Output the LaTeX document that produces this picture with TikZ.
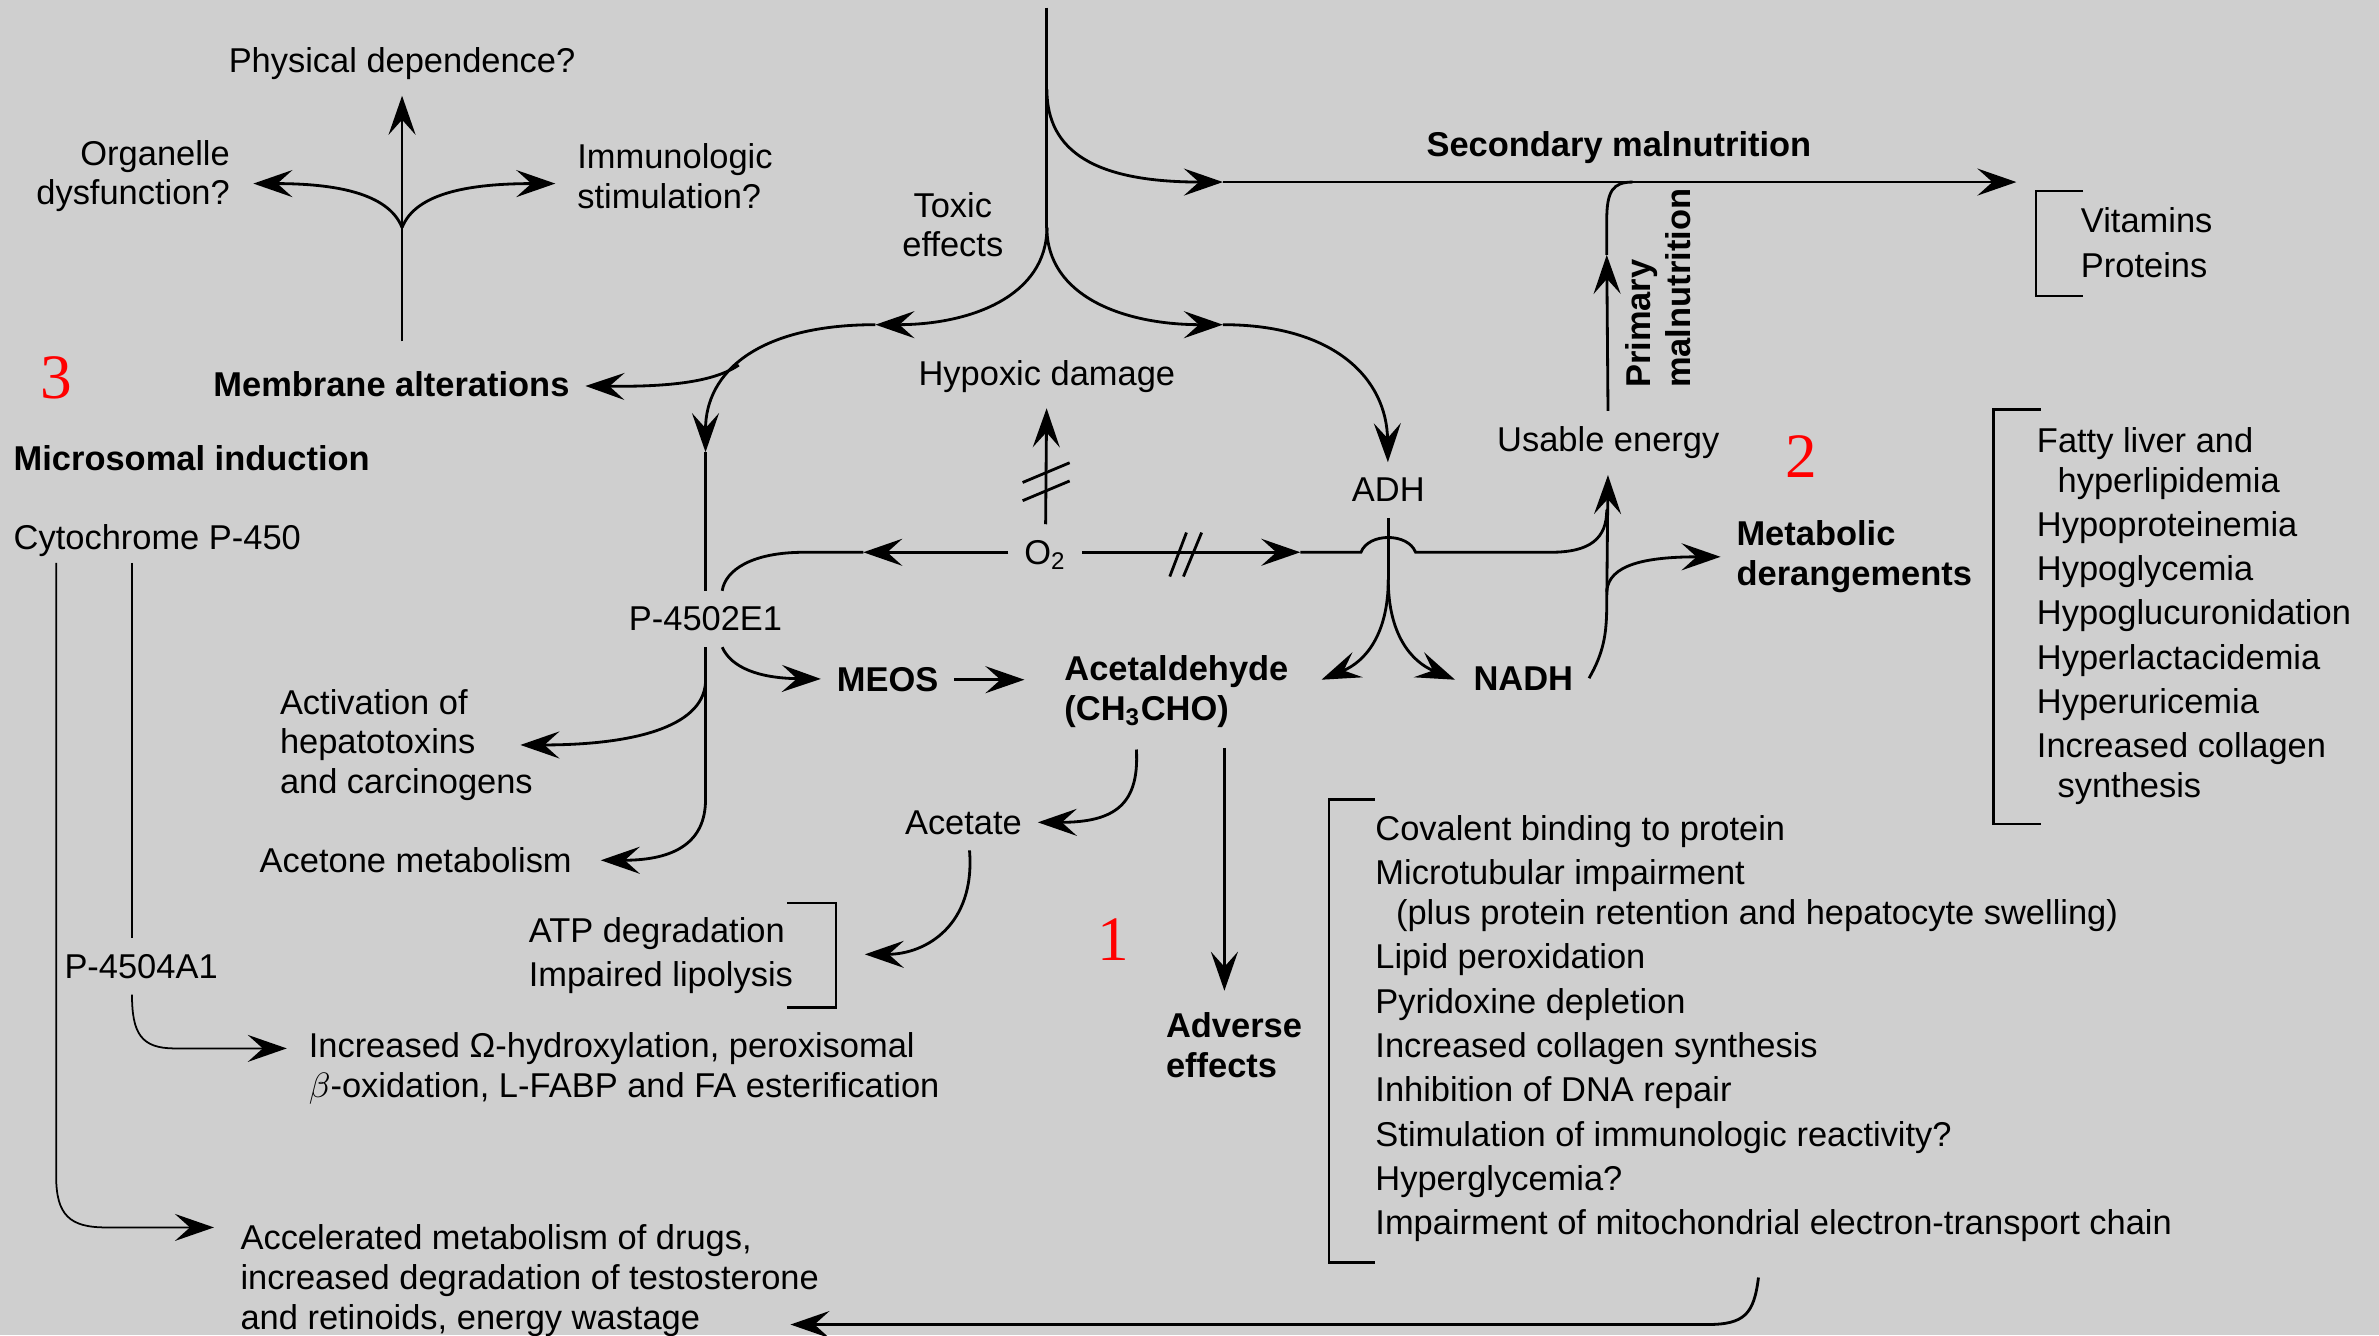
\documentclass[tikz,border=0pt]{standalone}
\usepackage{fontspec}
\setmainfont{Liberation Sans}
\newfontfamily\markfont{Liberation Serif}
\usepackage{tikz}
\usetikzlibrary{arrows.meta,positioning,calc}
\definecolor{paper}{RGB}{207,207,207}
\definecolor{marker}{RGB}{255,0,0}

\begin{document}
\begin{tikzpicture}[
  x=0.15172mm, y=-0.15172mm,
  lbl/.style={inner sep=0pt, outer sep=1.6mm, align=left, font=\fontsize{9.8}{11.3}\selectfont},
  key/.style={lbl, font=\fontsize{9.8}{11.3}\selectfont\bfseries},
  num/.style={inner sep=0pt, text=marker, font=\fontsize{18}{18}\selectfont\markfont},
  ln/.style={line width=0.8pt},
  fine/.style={line width=0.5pt},
  arr/.style={ln, -{Stealth[length=3.9mm, width=2.7mm, inset=1.5mm]}},
  brk/.style={line width=0.7pt}
]
\fill[paper] (0,0) rectangle (1568,880);
\useasboundingbox (0,0) rectangle (1568,880);

% labels
\node[lbl] (phys) at (265,42) {Physical dependence?};
\node[lbl, anchor=east, align=right] (organ) at (162,116) {Organelle\\dysfunction?};
\node[lbl, anchor=west] (immun) at (370,116) {Immunologic\\stimulation?};
\node[key] (membr) at (258,253) {Membrane alterations};
\node[num] (n3) at (37,249) {3};
\node[key, anchor=west] (micro) at (-1.5,302) {Microsomal induction};
\node[lbl, anchor=west] (cyto) at (-1.5,356) {Cytochrome P-450};
\node[lbl, align=center] (toxic) at (628,148) {Toxic\\effects};
\node[lbl] (hypox) at (690,248) {Hypoxic damage};
\node[lbl, text depth=0pt] (o2) at (689,364) {O\textsubscript{2}};
\node[lbl] (adh) at (915,323) {ADH};
\node[lbl] (p2e1) at (465,408) {P-4502E1};
\node[key] (meos) at (585,448) {MEOS};
\node[key, anchor=west] (acet) at (691,456) {Acetaldehyde\\(CH\textsubscript{3}CHO)};
\node[key] (nadh) at (1004,447) {NADH};
\node[lbl, anchor=west] (activ) at (174,491) {Activation of\\hepatotoxins\\and carcinogens};
\node[lbl] (aceton) at (274,567) {Acetone metabolism};
\node[lbl] (acetate) at (635,542) {Acetate};
\node[lbl, anchor=west] (atp) at (338,630) {ATP degradation\\[1.3pt]Impaired lipolysis};
\node[num] (n1) at (734,619) {1};
\node[key, anchor=west] (adverse) at (758,689) {Adverse\\effects};
\node[lbl] (p4a1) at (93,637) {P-4504A1};
\node[lbl, anchor=west] (omega) at (193,704) {Increased Ω-hydroxylation, peroxisomal\\$\beta$-oxidation, L-FABP and FA esterification};
\node[lbl, anchor=west] (accel) at (148,844) {Accelerated metabolism of drugs,\\increased degradation of testosterone\\and retinoids, energy wastage};
\node[key] (secm) at (1067,97) {Secondary malnutrition};
\node[key, rotate=90] (primm) at (1093,190) {Primary\\malnutrition};
\node[lbl] (usable) at (1060,292) {Usable energy};
\node[num] (n2) at (1187,301) {2};
\node[key, anchor=west] (metab) at (1134,367) {Metabolic\\derangements};
\node[lbl, anchor=west] (vitam) at (1361,160) {Vitamins\\[1.3pt]Proteins};
\node[lbl, anchor=west] (metlist) at (1332,406) {Fatty liver and\\\hspace*{0.6em}hyperlipidemia\\[1.3pt]Hypoproteinemia\\[1.3pt]Hypoglycemia\\[1.3pt]Hypoglucuronidation\\[1.3pt]Hyperlactacidemia\\[1.3pt]Hyperuricemia\\[1.3pt]Increased collagen\\\hspace*{0.6em}synthesis};
\node[lbl, anchor=west] (advlist) at (896,678) {Covalent binding to protein\\[1.3pt]Microtubular impairment\\\hspace*{0.6em}(plus protein retention and hepatocyte swelling)\\[1.3pt]Lipid peroxidation\\[1.3pt]Pyridoxine depletion\\[1.3pt]Increased collagen synthesis\\[1.3pt]Inhibition of DNA repair\\[1.3pt]Stimulation of immunologic reactivity?\\[1.3pt]Hyperglycemia?\\[1.3pt]Impairment of mitochondrial electron-transport chain};

% junctions and free ends
\coordinate (top) at (690,5);
\coordinate (sbr) at (690,59);
\coordinate (fork) at (690,150);
\coordinate (sarr) at (806,120);
\coordinate (send) at (1329,120);
\coordinate (larr) at (577,214);
\coordinate (rarr) at (806,214);
\coordinate (darr) at (465,298);
\coordinate (pbase) at (265,225);
\coordinate (pfork) at (265,150);
\coordinate (oarr) at (167,121);
\coordinate (iarr) at (366,121);
\coordinate (ca) at (37,371);
\coordinate (cb) at (87,371);
\coordinate (accarr) at (141,809);
\coordinate (omarr) at (189,691);
\coordinate (o2l) at (569,364);
\coordinate (o2r) at (857,364);
\coordinate (hopa) at (897,364);
\coordinate (hopb) at (933,364);
\coordinate (ujoin) at (1059,336);
\coordinate (vjoin) at (1059,390);
\coordinate (adhfork) at (915,382);
\coordinate (adhl) at (871,448);
\coordinate (adhr) at (959,448);
\coordinate (primtop) at (1059,168);
\coordinate (primjoin) at (1076,120);
\coordinate (pact) at (465,450);
\coordinate (actarr) at (343,491);
\coordinate (acnarr) at (396,567);
\coordinate (aceta) at (749,494);
\coordinate (atparr) at (570,629);
\coordinate (adv0) at (807,493);
\coordinate (advarr) at (807,653);
\coordinate (bot0) at (1159,842);
\coordinate (botarr) at (521,873);

% toxic effects and malnutrition
\draw[ln] (top) -- (fork);
\draw[arr] (sbr) .. controls (690,100) and (722,120) .. (sarr);
\draw[arr] (sarr) -- (send);
\draw[arr] (fork) .. controls (690,195) and (640,214) .. (larr);
\draw[arr] (fork) .. controls (690,195) and (740,214) .. (rarr);
\draw[arr] (larr) .. controls (500,214) and (465,245) .. (darr) coordinate[pos=0.55] (mjoin);
\draw[ln] (darr) -- (p2e1);
\draw[arr] (mjoin) .. controls (470,252) and (440,255) .. (membr);
\draw[arr] (rarr) .. controls (880,214) and (914,250) .. (adh);
\draw[arr] (usable) -- (primtop);
\draw[ln] (primtop) -- (1059,145) .. controls (1059,126) and (1063,120) .. (primjoin);

% membrane alterations
\draw[arr] (pbase) -- (phys);
\draw[arr] (pfork) .. controls (256,127) and (220,121) .. (oarr);
\draw[arr] (pfork) .. controls (274,127) and (310,121) .. (iarr);

% microsomal induction
\draw[arr, fine] (ca) -- (37,775) .. controls (37,801) and (46,809) .. (70,809) -- (accarr);
\draw[fine] (cb) -- (cb |- p4a1.north);
\draw[arr, fine] (cb |- p4a1.south) .. controls (87,681) and (93,691) .. (115,691) -- (omarr);

% P-4502E1
\draw[arr] ($(p2e1.south)+(11,0)$) .. controls (482,440) and (500,447) .. (meos);
\draw[arr, shorten >=2.4mm] (meos) -- (meos -| acet.west);
\draw[arr] (p2e1.south) -- (465,527) .. controls (465,555) and (445,567) .. (acnarr);
\draw[arr] (pact) .. controls (463,480) and (415,491) .. (actarr);

% oxygen
\draw[arr] (o2) -- (o2l);
\draw[ln] (o2l) -- (530,364) .. controls (495,364) and (478,376) .. ($(p2e1.north)+(11,0)$);
\draw[arr] (o2) -- (hypox);
\draw[ln] (674,318) -- (705,305);
\draw[ln] (674,330) -- (705,317);
\draw[arr] (o2) -- (o2r);
\draw[ln] (771,380) -- (782,351);
\draw[ln] (780,380) -- (792,351);
\draw[ln] (o2r) -- (hopa) .. controls (902,351) and (928,351) .. (hopb) -- (1022,364) .. controls (1048,364) and (1059,355) .. (ujoin);

% ADH and NADH
\draw[ln] (adh) -- (adhfork);
\draw[arr] (adhfork) .. controls (915,418) and (900,436) .. (adhl);
\draw[arr] (adhfork) .. controls (915,418) and (930,436) .. (adhr);
\draw[arr] (nadh.east) .. controls (1057,430) and (1059,418) .. (1059,398) -- (usable);
\draw[arr] (vjoin) .. controls (1060,372) and (1085,367) .. (metab.west);

% acetaldehyde
\draw[arr] (aceta) .. controls (751,530) and (735,542) .. (acetate);
\draw[arr] ($(acetate.south)+(4,0)$) .. controls (643,610) and (610,629) .. (atparr);
\draw[arr] (adv0) -- (advarr);
\draw[arr] (bot0) .. controls (1156,866) and (1150,873) .. (1125,873) -- (botarr);

% brackets
\draw[brk] (1373,126) -- (1342,126) -- (1342,195) -- (1373,195);
\draw[brk] (1345,270) -- (1314,270) -- (1314,543) -- (1345,543);
\draw[brk] (906,527) -- (876,527) -- (876,832) -- (906,832);
\draw[brk] (519,595) -- (551,595) -- (551,664) -- (519,664);
\end{tikzpicture}
\end{document}
